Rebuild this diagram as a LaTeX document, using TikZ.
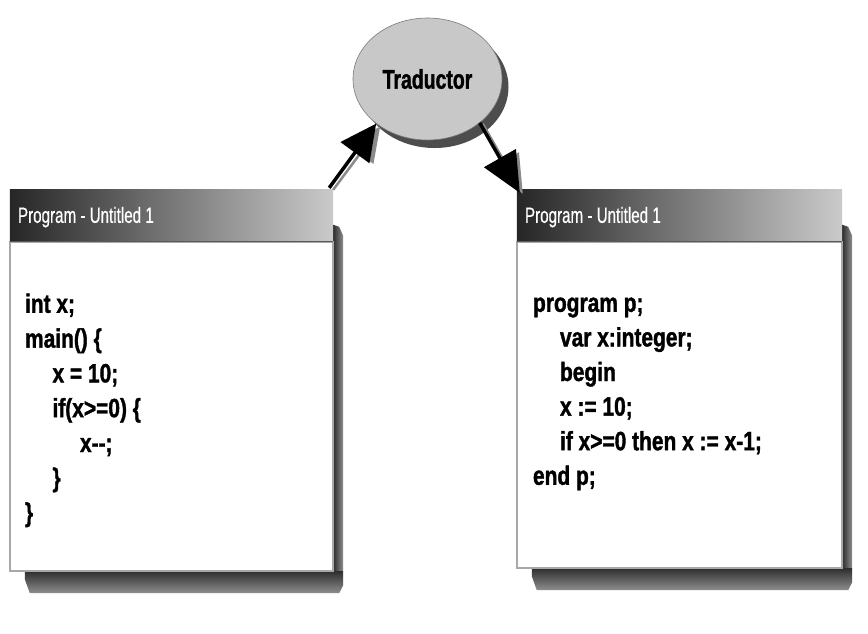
\documentclass[tikz,border=0pt]{standalone}
\usepackage{fontspec}
\setmainfont{Liberation Sans}
\newfontfamily\titlefont{Liberation Sans}[FakeStretch=0.69, FakeBold=0.5]
\newfontfamily\codefont{Liberation Sans}[FakeStretch=0.79, BoldFeatures={FakeBold=1.3}]
\newfontfamily\labelfont{Liberation Sans}[FakeStretch=0.72, BoldFeatures={FakeBold=1.2}]
\usetikzlibrary{calc,arrows.meta,shapes.geometric}
\definecolor{tbdark}{HTML}{262626}
\definecolor{tblight}{HTML}{CACACA}
\definecolor{shdark}{HTML}{2E2E2E}
\definecolor{shlight}{HTML}{8E8E8E}
\definecolor{bodyline}{HTML}{A8A8A8}
\definecolor{circfill}{HTML}{C8C8C8}
\definecolor{circline}{HTML}{7A7A7A}
\definecolor{arrshade}{HTML}{8A8A8A}
\begin{document}
\begin{tikzpicture}[x=1pt,y=-1pt,
  winframe/.style={rectangle, inner sep=0pt, draw=none},
  wintitle/.style={anchor=base west, inner sep=0pt, text=white,
    font=\titlefont\fontsize{22}{26}\selectfont},
  codeline/.style={anchor=base west, inner sep=0pt,
    font=\codefont\bfseries\fontsize{26.5}{30}\selectfont},
  flowarrow/.style={line width=3.5pt},
  flowshadow/.style={line width=2.5pt, draw=arrshade}]
\useasboundingbox[fill=white] (0,0) rectangle (868,633);

% ---------- window frames ----------
\node[winframe, minimum width=323pt, minimum height=381pt] (lwin) at (171.5,380.5) {};
\node[winframe, minimum width=325pt, minimum height=378pt] (rwin) at (679.5,379) {};

\foreach \w in {lwin,rwin}{
  % drop shadow, right strip and bottom strip
  \shade[left color=shdark, right color=shlight]
    ($(\w.north east)+(0,35)$) -- ($(\w.north east)+(6,37)$) -- ($(\w.north east)+(10,46)$)
    -- ($(\w.south east)+(10,0)$) -- ($(\w.south east)+(0,0)$) -- cycle;
  \shade[top color=shdark, bottom color=shlight]
    ($(\w.south west)+(15,0)$) -- ($(\w.south east)+(10,0)$) -- ($(\w.south east)+(10,14)$)
    -- ($(\w.south east)+(6,22)$) -- ($(\w.south west)+(20,22)$) -- ($(\w.south west)+(15,8)$) -- cycle;
  % body
  \filldraw[fill=white, draw=bodyline, line width=1.5pt]
    ($(\w.north west)+(0,52)$) rectangle (\w.south east);
  % title bar
  \shade[left color=tbdark, right color=tblight]
    (\w.north west) rectangle ($(\w.north east)+(0,52)$);
  \draw[draw=black!65, line width=0.8pt]
    ($(\w.north west)+(0,52)$) -- ($(\w.north east)+(0,52)$);
}

\node[wintitle] (ltitle) at ($(lwin.north west)+(8,33)$) {Program - Untitled 1};
\node[wintitle] (rtitle) at ($(rwin.north west)+(8,33)$) {Program - Untitled 1};

% ---------- source code ----------
\foreach \ind/\txt [count=\i] in {0/{int x;}, 0/{main() \{}, 1/{x = 10;},
    1/{if(x>=0) \{}, 2/{x-{}-;}, 1/{\}}, 0/{\}}}
  \node[codeline] (lcode\i) at ($(lwin.north west)+({15+27.5*\ind},{123+34.8*(\i-1)})$) {\txt};

\foreach \ind/\txt [count=\i] in {0/{program p;}, 1/{var x:integer;}, 1/{begin},
    1/{x := 10;}, 1/{if x>=0 then x := x-1;}, 0/{end p;}}
  \node[codeline] (rcode\i) at ($(rwin.north west)+({16+27*\ind},{122+34.6*(\i-1)})$) {\txt};

% ---------- translator ----------
\fill[shdark!85] (434.5,87) ellipse [x radius=74pt, y radius=61pt];
\node[ellipse, minimum width=149pt, minimum height=122pt, inner sep=0pt,
  fill=circfill, draw=circline, line width=0.6pt,
  font=\labelfont\bfseries\fontsize{27}{30}\selectfont] (trad) at (427.5,79) {Traductor};

% ---------- connectors ----------
\coordinate (ltail) at ($(lwin.north east)+(-4,-2)$);
\coordinate (rtip) at ($(rwin.north west)+(3,3)$);

\draw[flowshadow, -{Triangle[length=34pt, width=33pt]}, arrshade]
  ($(ltail)+(4,2)$) -- ($(trad.221)+(4,3)$);
\draw[flowarrow, -{Triangle[length=36pt, width=35pt]}] (ltail) -- (trad.221);

\draw[flowshadow, -{Triangle[length=38pt, width=34pt]}, arrshade]
  ($(trad.-40)+(3,1)$) -- ($(rtip)+(3,1)$);
\draw[flowarrow, -{Triangle[length=40pt, width=36pt]}] (trad.-40) -- (rtip);
\end{tikzpicture}
\end{document}
